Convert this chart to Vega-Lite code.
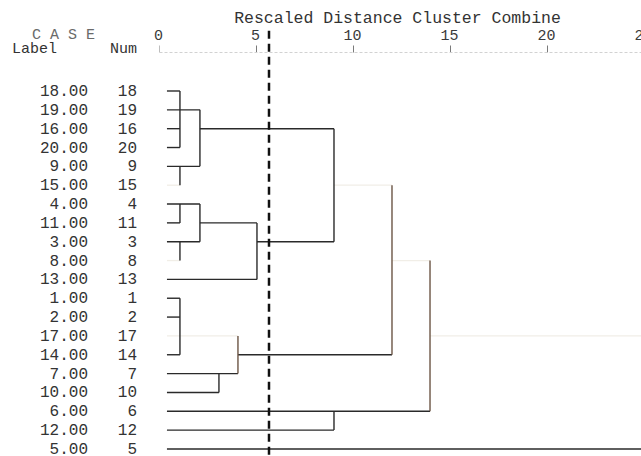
{
  "$schema": "https://vega.github.io/schema/vega-lite/v6.json",
  "width": 485,
  "height": 456,
  "autosize": "none",
  "padding": {"left": 159, "top": 0, "right": 0, "bottom": 0},
  "background": "white",
  "config": {"view": {"stroke": null}, "font": "Liberation Mono"},
  "datasets": {
    "cases": [
      {"case": 18, "row": 1}, {"case": 19, "row": 2}, {"case": 16, "row": 3}, {"case": 20, "row": 4},
      {"case": 9, "row": 5}, {"case": 15, "row": 6}, {"case": 4, "row": 7}, {"case": 11, "row": 8},
      {"case": 3, "row": 9}, {"case": 8, "row": 10}, {"case": 13, "row": 11}, {"case": 1, "row": 12},
      {"case": 2, "row": 13}, {"case": 17, "row": 14}, {"case": 14, "row": 15}, {"case": 7, "row": 16},
      {"case": 10, "row": 17}, {"case": 6, "row": 18}, {"case": 12, "row": 19}, {"case": 5, "row": 20}
    ],
    "links": [
      {"x": 0.41, "x2": 1.08, "y": 1, "y2": 1},
      {"x": 0.41, "x2": 2.11, "y": 2, "y2": 2},
      {"x": 0.41, "x2": 1.08, "y": 3, "y2": 3},
      {"x": 2.11, "x2": 9.02, "y": 3, "y2": 3},
      {"x": 0.41, "x2": 1.08, "y": 4, "y2": 4},
      {"x": 0.41, "x2": 2.11, "y": 5, "y2": 5},
      {"x": 0.41, "x2": 2.11, "y": 7, "y2": 7},
      {"x": 0.41, "x2": 1.08, "y": 8, "y2": 8},
      {"x": 2.11, "x2": 5.05, "y": 8, "y2": 8},
      {"x": 0.41, "x2": 2.11, "y": 9, "y2": 9},
      {"x": 5.05, "x2": 9.02, "y": 9, "y2": 9},
      {"x": 0.41, "x2": 5.05, "y": 11, "y2": 11},
      {"x": 0.41, "x2": 1.08, "y": 12, "y2": 12},
      {"x": 0.41, "x2": 1.08, "y": 13, "y2": 13},
      {"x": 0.41, "x2": 1.08, "y": 15, "y2": 15},
      {"x": 4.07, "x2": 12.01, "y": 15, "y2": 15},
      {"x": 0.41, "x2": 4.07, "y": 16, "y2": 16},
      {"x": 0.41, "x2": 3.09, "y": 17, "y2": 17},
      {"x": 0.41, "x2": 13.97, "y": 18, "y2": 18},
      {"x": 0.41, "x2": 9.02, "y": 19, "y2": 19},
      {"x": 0.41, "x2": 25, "y": 20, "y2": 20},
      {"x": 1.08, "x2": 1.08, "y": 1, "y2": 4},
      {"x": 1.08, "x2": 1.08, "y": 5, "y2": 6},
      {"x": 1.08, "x2": 1.08, "y": 7, "y2": 8},
      {"x": 1.08, "x2": 1.08, "y": 9, "y2": 10},
      {"x": 1.08, "x2": 1.08, "y": 12, "y2": 15},
      {"x": 2.11, "x2": 2.11, "y": 2, "y2": 5},
      {"x": 2.11, "x2": 2.11, "y": 7, "y2": 9},
      {"x": 3.09, "x2": 3.09, "y": 16, "y2": 17},
      {"x": 5.05, "x2": 5.05, "y": 8, "y2": 11},
      {"x": 9.02, "x2": 9.02, "y": 3, "y2": 9},
      {"x": 9.02, "x2": 9.02, "y": 18, "y2": 19},
      {"x": 25, "x2": 25, "y": 14, "y2": 20}
    ],
    "warmLinks": [
      {"x": 4.07, "x2": 4.07, "y": 14, "y2": 16},
      {"x": 12.01, "x2": 12.01, "y": 6, "y2": 15},
      {"x": 13.97, "x2": 13.97, "y": 10, "y2": 18}
    ],
    "ghostLinks": [
      {"x": 0.41, "x2": 1.08, "y": 6, "y2": 6},
      {"x": 9.02, "x2": 12.01, "y": 6, "y2": 6},
      {"x": 0.41, "x2": 1.08, "y": 10, "y2": 10},
      {"x": 12.01, "x2": 13.97, "y": 10, "y2": 10},
      {"x": 0.41, "x2": 4.07, "y": 14, "y2": 14},
      {"x": 13.97, "x2": 25, "y": 14, "y2": 14}
    ],
    "cut": [{"d": 5.67, "top": -2.2, "bottom": 20.5}],
    "header": [
      {"text": "C A S E", "hx": -6.55, "hy": -2.0, "side": "left", "tone": "light"},
      {"text": "Label", "hx": -7.58, "hy": -1.3, "side": "left", "tone": "dark"},
      {"text": "Num", "hx": -1.13, "hy": -1.3, "side": "right", "tone": "dark"}
    ]
  },
  "layer": [
    {
      "data": {"name": "ghostLinks"},
      "mark": {"type": "rule", "color": "#f1eee7", "strokeWidth": 1.3},
      "encoding": {
        "x": {"field": "x", "type": "quantitative",
          "scale": {"domain": [0, 25], "nice": false, "zero": false},
          "axis": {
            "orient": "top", "values": [0, 5, 10, 15, 20, 25], "offset": -52,
            "grid": false,
            "domainColor": "#d2d2d2", "domainDash": [3, 2], "domainWidth": 1,
            "tickColor": {"condition": {"test": "datum.value == 0", "value": "#bdbdbd"}, "value": "#7a7a7a"},
            "tickSize": 7, "tickWidth": 1,
            "labelFont": "Liberation Mono", "labelFontSize": 15, "labelColor": "#3a3a3a",
            "labelBaseline": "alphabetic",
            "labelPadding": 6, "labelOffset": -1, "labelFlush": false, "labelOverlap": false,
            "title": "Rescaled Distance Cluster Combine",
            "titleFont": "Liberation Mono", "titleFontSize": 16.5, "titleFontWeight": "normal",
            "titleColor": "#333333", "titleBaseline": "alphabetic", "titleAlign": "center",
            "titleX": 238, "titleY": -30
          }},
        "x2": {"field": "x2"},
        "y": {"field": "y", "type": "quantitative",
          "scale": {"domain": [-3.83, 20.374], "reverse": true, "nice": false, "zero": false},
          "axis": null},
        "y2": {"field": "y2"}
      }
    },
    {
      "data": {"name": "links"},
      "mark": {"type": "rule", "color": "#2a2a2a", "strokeWidth": 1.4},
      "encoding": {
        "x": {"field": "x", "type": "quantitative"},
        "x2": {"field": "x2"},
        "y": {"field": "y", "type": "quantitative"},
        "y2": {"field": "y2"}
      }
    },
    {
      "data": {"name": "warmLinks"},
      "mark": {"type": "rule", "color": "#6b5444", "strokeWidth": 1.4},
      "encoding": {
        "x": {"field": "x", "type": "quantitative"},
        "x2": {"field": "x2"},
        "y": {"field": "y", "type": "quantitative"},
        "y2": {"field": "y2"}
      }
    },
    {
      "data": {"name": "cut"},
      "mark": {"type": "rule", "color": "#111111", "strokeWidth": 2.5, "strokeDash": [8, 5]},
      "encoding": {
        "x": {"field": "d", "type": "quantitative"},
        "y": {"field": "top", "type": "quantitative"},
        "y2": {"field": "bottom"}
      }
    },
    {
      "data": {"name": "cases"},
      "mark": {"type": "text", "align": "right", "baseline": "middle", "font": "Liberation Mono", "fontSize": 16, "color": "#333333"},
      "encoding": {
        "x": {"datum": -3.66, "type": "quantitative"},
        "y": {"field": "row", "type": "quantitative"},
        "text": {"field": "case", "type": "quantitative", "format": ".2f"}
      }
    },
    {
      "data": {"name": "cases"},
      "mark": {"type": "text", "align": "right", "baseline": "middle", "font": "Liberation Mono", "fontSize": 16, "color": "#333333"},
      "encoding": {
        "x": {"datum": -1.13, "type": "quantitative"},
        "y": {"field": "row", "type": "quantitative"},
        "text": {"field": "case", "type": "quantitative", "format": "d"}
      }
    },
    {
      "data": {"name": "header"},
      "transform": [{"filter": "datum.side == 'left'"}],
      "mark": {"type": "text", "align": "left", "baseline": "middle", "font": "Liberation Mono", "fontSize": 15},
      "encoding": {
        "x": {"field": "hx", "type": "quantitative"},
        "y": {"field": "hy", "type": "quantitative"},
        "text": {"field": "text"},
        "color": {"field": "tone", "type": "nominal", "scale": {"domain": ["light", "dark"], "range": ["#6a6a6a", "#333333"]}, "legend": null}
      }
    },
    {
      "data": {"name": "header"},
      "transform": [{"filter": "datum.side == 'right'"}],
      "mark": {"type": "text", "align": "right", "baseline": "middle", "font": "Liberation Mono", "fontSize": 15, "color": "#333333"},
      "encoding": {
        "x": {"field": "hx", "type": "quantitative"},
        "y": {"field": "hy", "type": "quantitative"},
        "text": {"field": "text"}
      }
    }
  ]
}
